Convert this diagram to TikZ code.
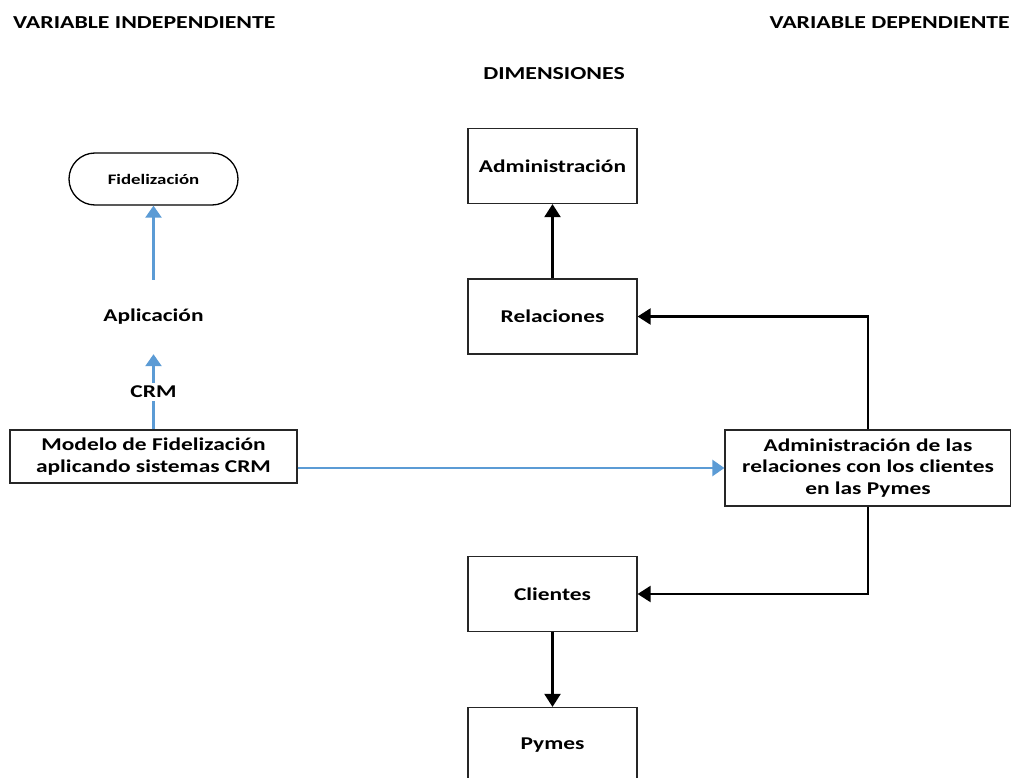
\documentclass[tikz,border=0pt]{standalone}
\usepackage{fontspec}
\setmainfont{Carlito}[FakeStretch=1.3]
\usetikzlibrary{arrows.meta}
\definecolor{crmblue}{HTML}{5B9BD5}

\begin{document}
\begin{tikzpicture}[x=1pt,y=-1pt,
  lbl/.style={font=\fontsize{18}{21.5}\selectfont\bfseries, inner sep=0pt},
  head/.style={font=\fontsize{18.3}{21}\selectfont\bfseries, inner sep=0pt},
  box/.style={draw=black!85, line width=1.2pt, minimum width=169pt, minimum height=75pt,
              inner sep=0pt, align=center, font=\fontsize{18}{21.5}\selectfont\bfseries},
  pill/.style={draw=black, line width=1.3pt, rounded corners=26pt, minimum width=169pt,
               minimum height=52pt, inner sep=0pt, font=\fontsize{14.5}{17}\selectfont\bfseries},
  bluearrow/.style={draw=crmblue, line width=2.4pt, -{Triangle[length=12pt,width=16pt]}},
  blackarrow/.style={draw=black, line width=2.2pt, -{Triangle[length=13pt,width=16pt]}},
]
\useasboundingbox (0,0) rectangle (1011,778);

% column headings
\node[head, anchor=base west] (hind) at (13,28.5) {VARIABLE INDEPENDIENTE};
\node[head, anchor=base east] (hdep) at (1010,28.5) {VARIABLE DEPENDIENTE};
\node[head, anchor=base] (hdim) at (554,80) {DIMENSIONES};

% independent variable column
\node[pill] (fid) at (153.5,179) {Fidelización};
\node[lbl, minimum height=74pt] (apl) at (153.5,317) {Aplicación};
\node[box, minimum width=287pt, minimum height=53pt] (modelo) at (153.5,456.5)
  {Modelo de Fidelización\\aplicando sistemas CRM};

% dependent variable
\node[box, minimum width=286pt, minimum height=76pt] (adm) at (868,468)
  {Administración de las\\relaciones con los clientes\\en las Pymes};

% dimensions
\node[box] (admin) at (552.5,166) {Administración};
\node[box] (rel) at (552.5,316.5) {Relaciones};
\node[box] (cli) at (552.5,594) {Clientes};
\node[box] (pym) at (552.5,745) {Pymes};

% connectors
\draw[bluearrow] (apl.north) -- (fid.south);
\draw[bluearrow] (modelo.north) -- node[lbl, fill=white, inner ysep=3pt] (crm) {CRM} (apl.south);
\draw[bluearrow] (adm.west -| modelo.east) -- (adm.west);

\draw[blackarrow] (rel.north) -- (admin.south);
\draw[blackarrow] (adm.north) |- (rel.east);
\draw[blackarrow] (adm.south) |- (cli.east);
\draw[blackarrow] (cli.south) -- (pym.north);
\end{tikzpicture}
\end{document}
